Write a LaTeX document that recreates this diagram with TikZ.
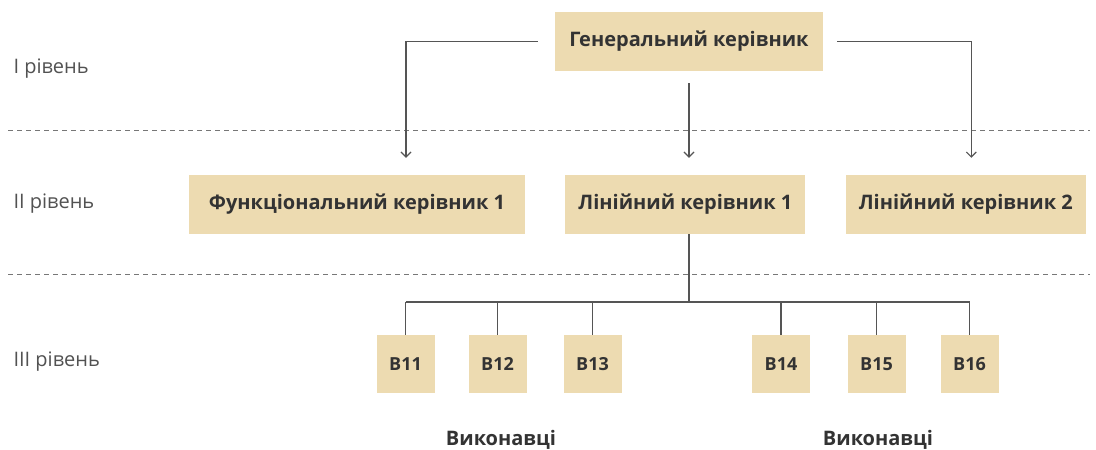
\documentclass[tikz,border=0pt]{standalone}
\usepackage{fontspec}
\setmainfont{Open Sans}
\usetikzlibrary{positioning,arrows.meta}
\definecolor{boxfill}{HTML}{EDDBB1}
\definecolor{ink}{HTML}{333333}
\definecolor{wire}{HTML}{555555}

\begin{document}
\begin{tikzpicture}[
    x=1pt, y=-1pt,
    box/.style={fill=boxfill, text=ink, font=\bfseries\fontsize{20}{24}\selectfont,
                minimum height=59pt, inner sep=0pt},
    exec/.style={box, font=\bfseries\fontsize{18}{22}\selectfont,
                 minimum width=58pt, minimum height=58pt},
    group/.style={text=ink, font=\bfseries\fontsize{20}{24}\selectfont, inner sep=1pt},
    level/.style={anchor=west, text=ink!85, font=\fontsize{20}{24}\selectfont},
    sep/.style={dashed, dash pattern=on 5pt off 4pt, draw=wire!80, line width=0.8pt},
    link/.style={draw=wire, line width=1.2pt},
    flow/.style={link, -{Straight Barb[length=5pt, width=10pt, line width=1.2pt]}}
  ]
    \useasboundingbox (0,0) rectangle (1096,450);

    % levels
    \node[level] (lev1) at (10,69)  {I рівень};
    \node[level] (lev2) at (10,204) {II рівень};
    \node[level] (lev3) at (10,362) {III рівень};
    \draw[sep] (8,130) -- (1090,130);
    \draw[sep] (8,274) -- (1090,274);

    \node[box, minimum width=268pt] (gen) at (689,41.5) {Генеральний керівник};
    \node[box, minimum width=336pt] (func) at (357,204.5) {Функціональний керівник 1};
    \node[box, minimum width=240pt, right=40pt of func] (lin1) {Лінійний керівник 1};
    \node[box, minimum width=240pt, right=40pt of lin1] (lin2) {Лінійний керівник 2};

    \foreach \n/\x in {11/405.5,12/497.5,13/592.5,14/781,15/876.5,16/969.5}
      \node[exec] (b\n) at (\x,364) {B\n};

    \node[group] (execA) at (501,440) {Виконавці};
    \node[group] (execB) at (878,440) {Виконавці};

    \draw[flow] ([xshift=-17pt]gen.west) -| ([xshift=49pt,yshift=17pt]func.north);
    \draw[flow] ([yshift=-12pt]gen.south) -- ([yshift=17pt]gen.south |- lin1.north);
    \draw[flow] ([xshift=14pt]gen.east) -| ([xshift=5.5pt,yshift=17pt]lin2.north);

    \coordinate (bus) at (0,302);
    \draw[link] (gen.south |- lin1.south) -- (gen.south |- bus);
    \draw[link] (b11.north |- bus) -- (b16.north |- bus);
    \foreach \n in {11,...,16}
      \draw[link] (b\n.north |- bus) -- (b\n.north);
  \end{tikzpicture}
\end{document}
